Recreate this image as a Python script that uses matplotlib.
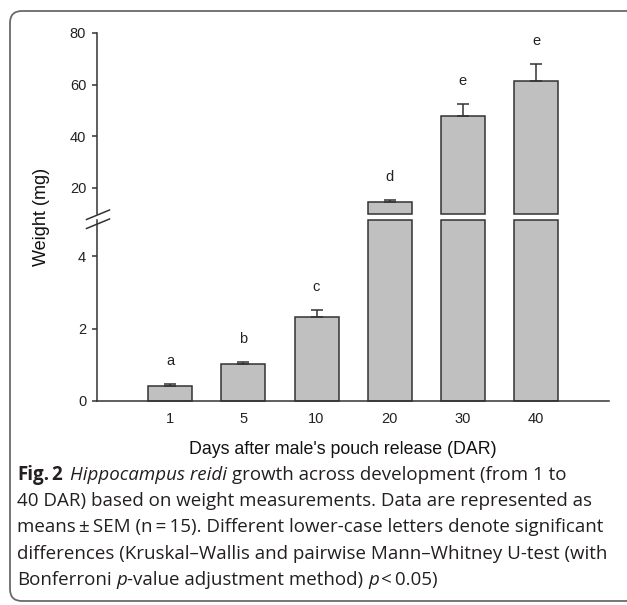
import matplotlib
matplotlib.use('Agg')
import matplotlib.pyplot as plt
from matplotlib.patches import FancyBboxPatch
from matplotlib.lines import Line2D
from matplotlib.transforms import IdentityTransform

# ---- data ----
days = ['1', '5', '10', '20', '30', '40']
weight_mg = [0.41, 1.01, 2.32, 14.4, 47.7, 61.5]
sem_mg = [0.05, 0.06, 0.20, 0.7, 4.9, 6.5]
letters = ['a', 'b', 'c', 'd', 'e', 'e']
lower_ticks = [0, 2, 4]
upper_ticks = [20, 40, 60, 80]
lower_lim = (0, 5)
upper_lim = (10, 80)

xlabel = "Days after male's pouch release (DAR)"
ylabel = "Weight (mg)"

W, H = 627, 605
fig = plt.figure(figsize=(W / 100, H / 100), dpi=100)
fig.patch.set_facecolor('white')

chart_font = ['Liberation Sans', 'DejaVu Sans']
cap_font = ['Open Sans', 'DejaVu Sans']
dark = '#333333'
bar_face = '#c0c0c0'


def fig_rect(x0, y_top, x1, y_bot):
    return [x0 / W, (H - y_bot) / H, (x1 - x0) / W, (y_bot - y_top) / H]


ax_lo = fig.add_axes(fig_rect(97, 220.3, 609.3, 400.7))
ax_hi = fig.add_axes(fig_rect(97, 33, 609.3, 213.5))

xs = list(range(len(days)))
bw = 0.6

for ax in (ax_lo, ax_hi):
    ax.set_xlim(-1, 6)
    ax.spines['top'].set_visible(False)
    ax.spines['right'].set_visible(False)
    ax.spines['left'].set_color(dark)
    ax.spines['bottom'].set_color(dark)
    ax.spines['left'].set_linewidth(1.1)
    ax.spines['bottom'].set_linewidth(1.1)
    ax.patch.set_alpha(0)

ax_lo.set_ylim(*lower_lim)
ax_hi.set_ylim(*upper_lim)
ax_hi.spines['bottom'].set_visible(False)

# lower segment bars
lo_h = [min(v, lower_lim[1]) for v in weight_mg]
ax_lo.bar(xs, lo_h, width=bw, color=bar_face, edgecolor=dark, linewidth=1.1,
          clip_on=False, zorder=2)
# upper segment bars
for x, v in zip(xs, weight_mg):
    if v > upper_lim[0]:
        ax_hi.bar(x, v - upper_lim[0], bottom=upper_lim[0], width=bw,
                  color=bar_face, edgecolor=dark, linewidth=1.1,
                  clip_on=False, zorder=2)

# error bars and letters
for x, v, e, lab in zip(xs, weight_mg, sem_mg, letters):
    ax = ax_lo if v <= lower_lim[1] else ax_hi
    ax.errorbar([x], [v], yerr=[[0], [e]], fmt='none', ecolor=dark,
                elinewidth=1.1, capsize=4, capthick=1.1, zorder=3, clip_on=False)
    ax.annotate(lab, xy=(x, v + e), xytext=(0, 16.5), textcoords='offset points',
                ha='center', va='center', fontsize=10.5, family=chart_font,
                color='#222222', annotation_clip=False)

ax_lo.set_yticks(lower_ticks)
ax_hi.set_yticks(upper_ticks)
ax_lo.set_xticks(xs)
ax_lo.set_xticklabels(days)
ax_hi.set_xticks([])
for ax in (ax_lo, ax_hi):
    ax.tick_params(axis='y', direction='out', length=3.8, width=1.1, color=dark,
                   pad=4.0, labelsize=10.5, labelcolor='#222222')
    for t in ax.get_yticklabels():
        t.set_family(chart_font)
ax_lo.tick_params(axis='x', direction='out', length=0, pad=8, labelsize=10.5,
                  labelcolor='#222222')
for t in ax_lo.get_xticklabels():
    t.set_family(chart_font)

# break marks
ident = IdentityTransform()
def px_line(x0, y0, x1, y1, **kw):
    fig.add_artist(Line2D([x0, x1], [H - y0, H - y1], transform=ident, **kw))

px_line(86.5, 219.5, 109.5, 210.0, color=dark, lw=1.1)
px_line(86.5, 228.5, 109.5, 219.0, color=dark, lw=1.1)

# axis labels
fig.text(342.5, H - 450, xlabel, transform=ident, ha='center', va='center',
         fontsize=12.8, family=chart_font, color='#111111')
fig.text(42, H - 217, ylabel, transform=ident, ha='center', va='center',
         rotation=90, fontsize=13, family=chart_font, color='#111111')

# frame
frame = FancyBboxPatch((10, H - 601), 640, 590, transform=ident,
                       boxstyle='round,pad=0,rounding_size=12',
                       facecolor='none', edgecolor='#6a6a6a', linewidth=1.3)
fig.add_artist(frame)

# caption
renderer = fig.canvas.get_renderer()
cap_size = 13.5
cap_color = '#231f20'

def measure(txt, **kw):
    t = fig.text(0, 0, txt, transform=ident, fontsize=cap_size, family=cap_font, **kw)
    w = t.get_window_extent(renderer).width
    t.remove()
    return w

space_w = measure('x x') - measure('xx')

def draw_line(pieces, x0, y_base):
    x = x0
    for txt, weight, style, gap in pieces:
        t = fig.text(x, H - y_base, txt, transform=ident, fontsize=cap_size,
                     family=cap_font, fontweight=weight, fontstyle=style,
                     ha='left', va='baseline', color=cap_color)
        x = t.get_window_extent(renderer).x1 + gap * space_w

N, B, I = 'normal', 'bold', 'italic'
cap_lines = [
    [('Fig.', B, N, 0.5), ('2', B, N, 1.6), ('Hippocampus reidi', N, I, 1.0),
     ('growth across development (from 1 to', N, N, 0)],
    [('40 DAR) based on weight measurements. Data are represented as', N, N, 0)],
    [('means\u2009\u00b1\u2009SEM (n\u2009=\u200915). Different lower-case letters denote significant', N, N, 0)],
    [('differences (Kruskal\u2013Wallis and pairwise Mann\u2013Whitney U-test (with', N, N, 0)],
    [('Bonferroni', N, N, 1.0), ('p', N, I, 0.0), ('-value adjustment method)', N, N, 1.0),
     ('p', N, I, 0.3), ('<\u20090.05)', N, N, 0)],
]
x_cap = 17
y0 = 480.0
dy = 26.2
for i, pieces in enumerate(cap_lines):
    draw_line(pieces, x_cap, y0 + i * dy)

fig.savefig('out.png', dpi=100, facecolor='white')
